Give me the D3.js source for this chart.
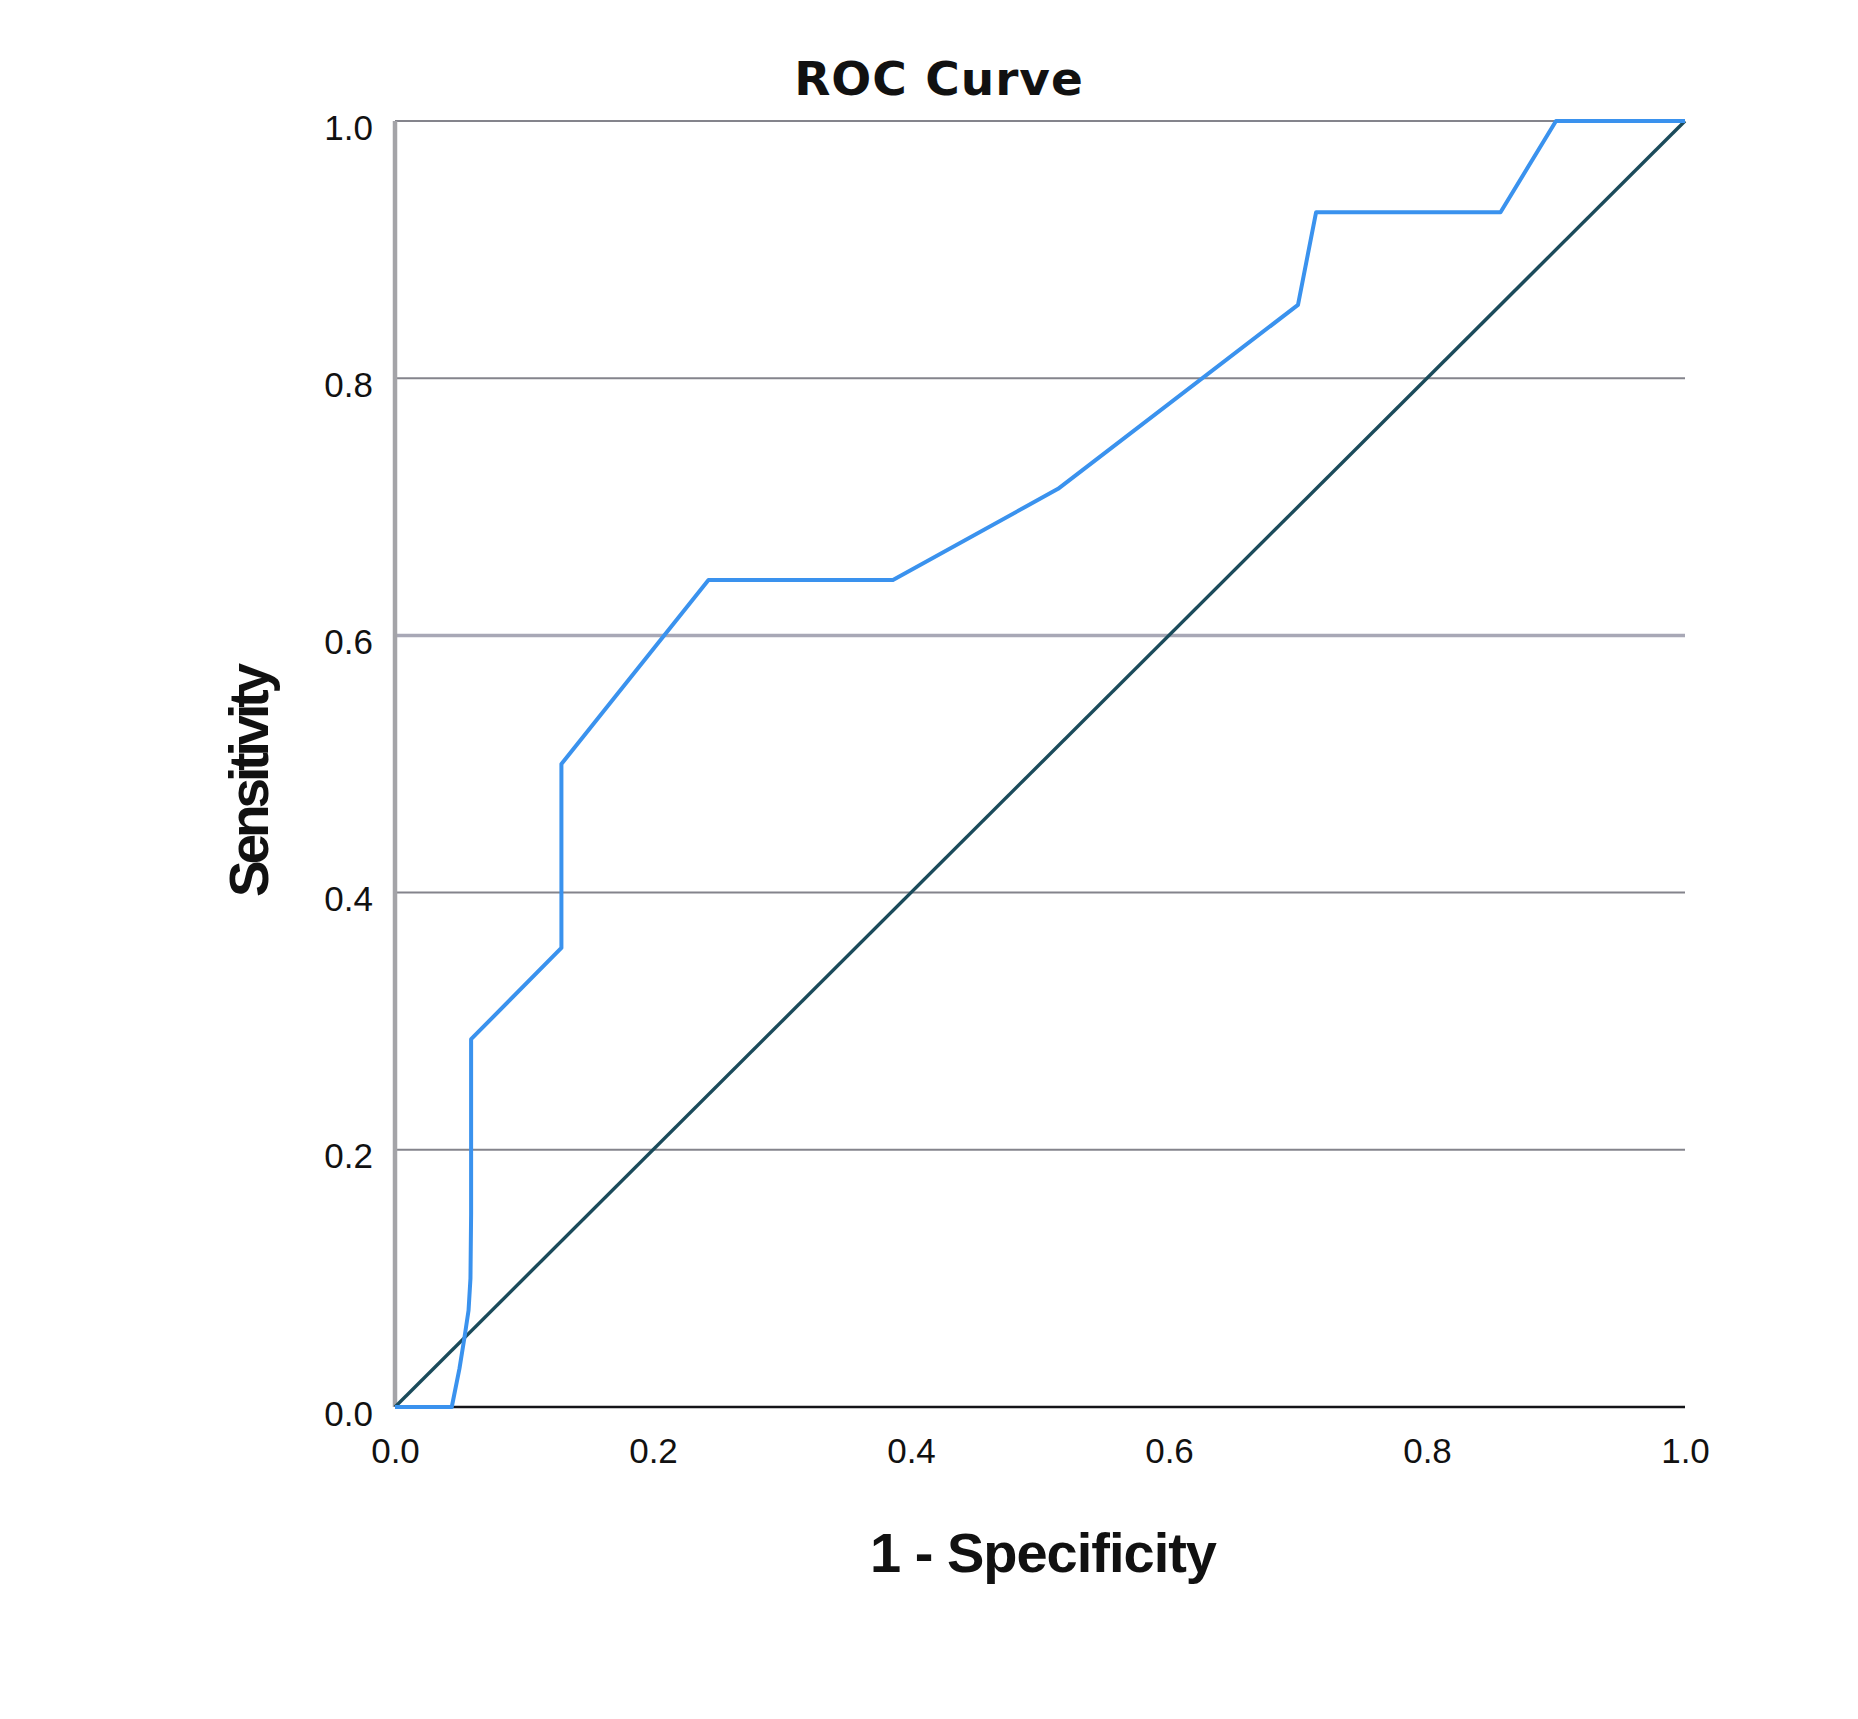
<!DOCTYPE html>
<html>
<head>
<meta charset="utf-8">
<script src="https://cdn.jsdelivr.net/npm/d3@7"></script>
<style>
  html, body { margin: 0; padding: 0; background: #fff; }
  svg text { font-family: "Liberation Sans", Arial, sans-serif; fill: #111; }
</style>
</head>
<body>
<div id="chart"></div>
<script>
// ROC curve: 1 - specificity (x) vs sensitivity (y)
const fpr         = [0, 0.044, 0.050, 0.054, 0.057, 0.0585, 0.059, 0.059, 0.129, 0.129, 0.243, 0.386, 0.514, 0.700, 0.714, 0.857, 0.900, 1.0];
const sensitivity = [0, 0,     0.030, 0.055, 0.075, 0.100,  0.150, 0.286, 0.357, 0.500, 0.643, 0.643, 0.714, 0.857, 0.929, 0.929, 1.0,   1.0];
const refLine     = [[0, 0], [1, 1]];
const tickValues  = [0, 0.2, 0.4, 0.6, 0.8, 1.0];
const gridValues  = [0.2, 0.4, 0.6, 0.8, 1.0];

const W = 1858, H = 1719;
const margin = { left: 395, top: 121, right: W - 1685, bottom: H - 1407 };
const plotW = W - margin.left - margin.right;
const plotH = H - margin.top - margin.bottom;

const x = d3.scaleLinear().domain([0, 1]).range([0, plotW]);
const y = d3.scaleLinear().domain([0, 1]).range([plotH, 0]);

const svg = d3.select('#chart').append('svg')
    .attr('width', W).attr('height', H)
    .style('background', '#fff');

const g = svg.append('g').attr('transform', `translate(${margin.left},${margin.top})`);

// ─── Grid lines ────────────────────────────────────────────────
g.selectAll('line.grid')
    .data(gridValues)
    .enter().append('line')
    .attr('class', 'grid')
    .attr('x1', 0).attr('x2', plotW)
    .attr('y1', d => y(d)).attr('y2', d => y(d))
    .attr('stroke', d => d === 0.6 ? '#a8a8b6' : '#84848c')
    .attr('stroke-width', d => d === 0.6 ? 3.5 : 2);

// ─── Axes ──────────────────────────────────────────────────────
g.append('line')
    .attr('x1', 0).attr('x2', 0).attr('y1', 0).attr('y2', plotH)
    .attr('stroke', '#a4a4a8').attr('stroke-width', 4.5);

g.append('line')
    .attr('x1', 0).attr('x2', plotW).attr('y1', plotH).attr('y2', plotH)
    .attr('stroke', '#141418').attr('stroke-width', 2.5);

const fmt = d3.format('.1f');

const yAxis = g.append('g')
    .attr('transform', 'translate(-22,0)')
    .call(d3.axisLeft(y).tickValues(tickValues).tickFormat(fmt).tickSize(0).tickPadding(0));
yAxis.select('.domain').remove();
yAxis.selectAll('text')
    .attr('font-size', '35px').attr('y', 18).attr('dy', null)
    .style('font-family', '"Liberation Sans", Arial, sans-serif').attr('fill', '#111');

const xAxis = g.append('g')
    .attr('transform', `translate(0,${plotH})`)
    .call(d3.axisBottom(x).tickValues(tickValues).tickFormat(fmt).tickSize(0).tickPadding(0));
xAxis.select('.domain').remove();
xAxis.selectAll('text')
    .attr('font-size', '35px').attr('y', 56).attr('dy', null)
    .style('font-family', '"Liberation Sans", Arial, sans-serif').attr('fill', '#111');

// ─── Lines ─────────────────────────────────────────────────────
const line = d3.line().x(d => x(d[0])).y(d => y(d[1]));

g.append('path')
    .datum(refLine)
    .attr('d', line)
    .attr('fill', 'none')
    .attr('stroke', '#1b4b5b')
    .attr('stroke-width', 3.4);

g.append('path')
    .datum(fpr.map((v, i) => [v, sensitivity[i]]))
    .attr('d', line)
    .attr('fill', 'none')
    .attr('stroke', '#3a92ee')
    .attr('stroke-width', 4)
    .attr('stroke-linejoin', 'round');

// ─── Titles ────────────────────────────────────────────────────
svg.append('text')
    .attr('x', 939).attr('y', 95)
    .attr('text-anchor', 'middle')
    .attr('font-size', '47px').attr('font-weight', 'bold')
    .style('font-family', '"DejaVu Sans", sans-serif')
    .style('letter-spacing', '1px')
    .text('ROC Curve');

svg.append('text')
    .attr('x', 1043).attr('y', 1572)
    .attr('text-anchor', 'middle')
    .attr('font-size', '56px').attr('font-weight', 'bold')
    .style('letter-spacing', '-1px')
    .text('1 - Specificity');

svg.append('text')
    .attr('transform', 'translate(268,780) rotate(-90)')
    .attr('text-anchor', 'middle')
    .attr('font-size', '55px').attr('font-weight', 'bold')
    .attr('textLength', 234).attr('lengthAdjust', 'spacing')
    .text('Sensitivity');
</script>
</body>
</html>
